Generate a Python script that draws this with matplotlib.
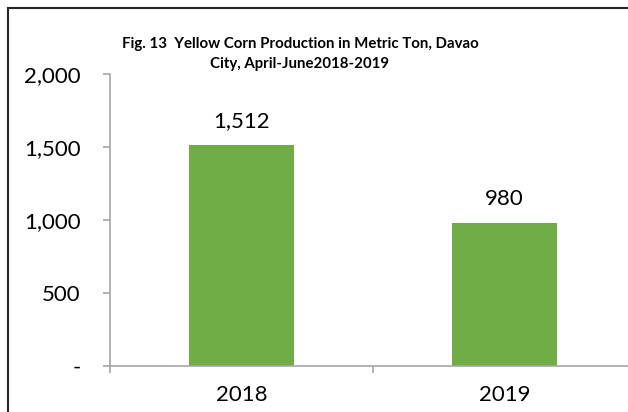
import matplotlib.pyplot as plt
from matplotlib.lines import Line2D
from matplotlib.ticker import FuncFormatter

years = ["2018", "2019"]
production = [1512, 980]
yticks = [0, 500, 1000, 1500, 2000]

plt.rcParams["font.family"] = ["Lato", "DejaVu Sans"]

fig = plt.figure(figsize=(6.28, 4.12), dpi=100)
ax = fig.add_axes([110 / 628, 46 / 412, 526 / 628, 292 / 412])

x = range(len(years))
ax.bar(x, production, width=0.4, color="#70AD47", zorder=2)
ax.set_xlim(-0.5, 1.5)
ax.set_ylim(0, 2000)
ax.set_yticks(yticks)
ax.yaxis.set_major_formatter(FuncFormatter(lambda v, p: "-" if v == 0 else f"{v:,.0f}"))
ax.set_xticks([0, 1])
ax.set_xticklabels(years)
ax.set_xticks([-0.5, 0.5], minor=True)

for i, v in enumerate(production):
    ax.annotate(f"{v:,}", (i, v), xytext=(0, 10), textcoords="offset points",
                ha="center", va="bottom", fontsize=16)

ax.spines["top"].set_visible(False)
ax.spines["right"].set_visible(False)
for s in ["left", "bottom"]:
    ax.spines[s].set_color("#A6A6A6")
    ax.spines[s].set_linewidth(1.2)

ax.tick_params(axis="y", length=5, color="#A6A6A6", width=1.2, labelsize=16, pad=16)
ax.tick_params(axis="x", which="major", length=0, labelsize=16, pad=14)
ax.tick_params(axis="x", which="minor", length=5, color="#A6A6A6", width=1.2)

fig.text(300 / 628, 1 - 54 / 412,
         "Fig. 13  Yellow Corn Production in Metric Ton, Davao\nCity, April-June2018-2019",
         ha="center", va="center", fontsize=10.8, fontweight="bold", linespacing=1.6)

# chart border (top and left edges only are visible)
fig.add_artist(Line2D([8 / 628, 1.02], [1 - 8 / 412, 1 - 8 / 412], color="#262626", lw=1.5))
fig.add_artist(Line2D([8 / 628, 8 / 628], [-0.02, 1 - 8 / 412], color="#262626", lw=1.5))

plt.savefig("out.png", dpi=100)
